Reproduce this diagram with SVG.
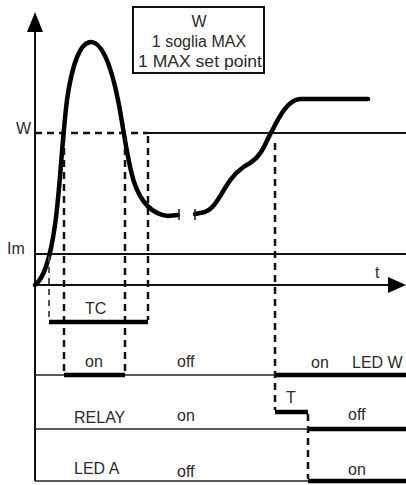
<svg xmlns="http://www.w3.org/2000/svg" width="406" height="485" viewBox="0 0 406 485">
<style>
text{font-family:"Liberation Sans",Arial,sans-serif;font-size:16px;fill:#2a2a2a}
.ax{stroke:#111;stroke-width:2;fill:none}
.thin{stroke:#222;stroke-width:1.6;fill:none}
.bar{stroke:#000;stroke-width:4.5;fill:none}
.dash{stroke:#111;stroke-width:2.5;stroke-dasharray:7 5;fill:none}
.dashl{stroke:#444;stroke-width:1.8;stroke-dasharray:6 5;fill:none}
.curve{stroke:#000;stroke-width:4.5;fill:none;stroke-linecap:round}
</style>
<rect width="406" height="485" fill="#fff"/>
<g id="axes">
<line class="ax" x1="35" y1="481" x2="35" y2="30"/>
<path d="M35,12 L27,32 L43,32 Z" fill="#000"/>
<line class="ax" x1="35" y1="285" x2="390" y2="285"/>
<path d="M406,285 L388,277 L388,293 Z" fill="#000"/>
<text x="375" y="278">t</text>
</g>
<g id="box">
<rect x="133" y="7" width="131" height="66" fill="#fff" stroke="#111" stroke-width="2"/>
<text x="199" y="27" text-anchor="middle">W</text>
<text x="199" y="47" text-anchor="middle">1 soglia MAX</text>
<text x="200" y="67" text-anchor="middle" textLength="124" lengthAdjust="spacingAndGlyphs">1 MAX set point</text>
</g>
<g id="thresholds">
<line class="dash" x1="35" y1="133" x2="148" y2="133" stroke-dasharray="12 6"/>
<line class="ax" x1="148" y1="133" x2="406" y2="133"/>
<text x="16" y="134">W</text>
<line class="ax" x1="35" y1="254" x2="406" y2="254"/>
<text x="7" y="254">Im</text>
</g>
<g id="signal">
<path class="curve" d="M35,285 C44,278 50,260 55,225 C60,190 62,140 67,100 C72,65 80,42 91,42 C103,42 112,70 118,100 C124,130 127,160 134,182 C140,200 150,214 168,216 L178,215"/>
<line class="thin" x1="179" y1="209" x2="179" y2="220"/>
<path class="curve" d="M195,214 L200,213 C212,212 218,200 225,188 C232,176 240,168 250,163 C262,156 265,143 272,131 C280,115 288,100 300,99 L368,99"/>
<line class="thin" x1="195" y1="209" x2="195" y2="220"/>
</g>
<g id="connectors">
<line class="dashl" x1="49" y1="256" x2="49" y2="320"/>
<line class="dash" x1="64" y1="136" x2="64" y2="373"/>
<line class="dash" x1="125" y1="136" x2="125" y2="373"/>
<line class="dash" x1="148" y1="136" x2="148" y2="320"/>
<line class="dash" x1="275" y1="143" x2="275" y2="410"/>
<line class="dash" x1="308" y1="414" x2="308" y2="479"/>
</g>
<g id="tc">
<line class="bar" x1="49" y1="322" x2="148" y2="322"/>
<text x="85" y="314">TC</text>
</g>
<g id="ledw">
<line class="thin" x1="35" y1="375" x2="275" y2="375"/>
<line class="bar" x1="64" y1="375" x2="125" y2="375"/>
<line class="bar" x1="275" y1="375" x2="406" y2="375"/>
<text x="85" y="367">on</text>
<text x="177" y="367">off</text>
<text x="311" y="368">on</text>
<text x="352" y="368">LED W</text>
</g>
<g id="relay">
<line class="bar" x1="275" y1="412" x2="308" y2="412"/>
<line class="thin" x1="35" y1="429" x2="308" y2="429"/>
<line class="bar" x1="308" y1="429" x2="406" y2="429"/>
<text x="74" y="423">RELAY</text>
<text x="177" y="421">on</text>
<text x="286" y="403">T</text>
<text x="348" y="420">off</text>
</g>
<g id="leda">
<line class="thin" x1="35" y1="481" x2="308" y2="481"/>
<line class="bar" x1="308" y1="481" x2="406" y2="481"/>
<text x="74" y="474">LED A</text>
<text x="177" y="477">off</text>
<text x="348" y="475">on</text>
</g>
</svg>
